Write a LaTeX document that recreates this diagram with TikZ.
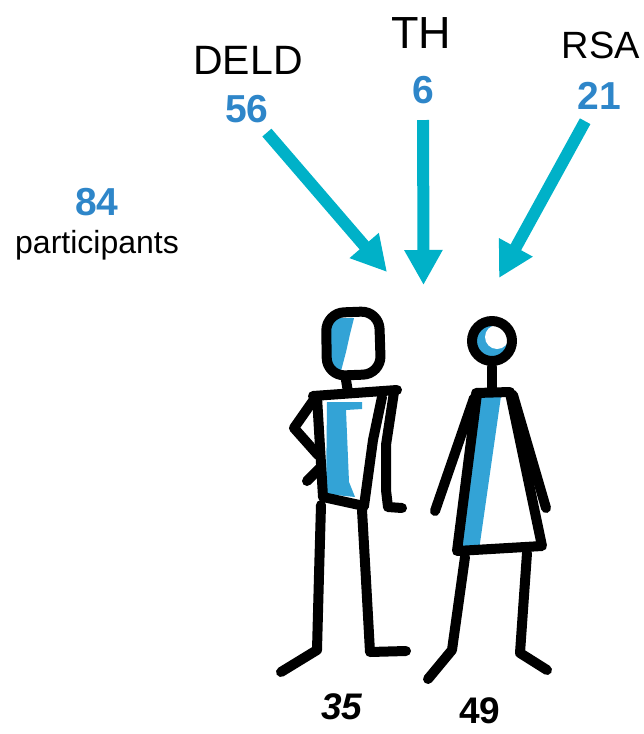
\documentclass[tikz,border=0pt]{standalone}
\usepackage{fontspec}
\setmainfont{Liberation Sans}
\usepackage{tikz}
\usetikzlibrary{arrows.meta, calc}

\definecolor{arrowcyan}{HTML}{00B1C8}
\definecolor{numblue}{HTML}{2E86C9}
\definecolor{bodyblue}{HTML}{33A3D6}

\tikzset{
    site/.style={inner sep=0pt, font=\fontsize{41}{44}\selectfont},
    count/.style={inner sep=0pt, text=numblue, font=\bfseries\fontsize{39}{42}\selectfont},
    total/.style={inner sep=0pt, font=\bfseries\fontsize{37}{40}\selectfont},
    flow/.style={draw=arrowcyan, line width=12pt, -{Triangle[length=35pt,width=36pt]}},
    body/.style={line width=10pt, line cap=round, line join=round},
}

\begin{document}
\begin{tikzpicture}[x=1pt, y=-1pt]
        \useasboundingbox (0,0) rectangle (644,734);

        \node[site] (deld) at (248,60.5) {DELD};
        \node[site, font=\fontsize{45}{48}\selectfont] (th) at (421,33.5) {TH};
        \node[site, font=\fontsize{38}{41}\selectfont] (rsa) at (601,45.5) {RSA};
        \node[count] (n56) at (247,109.5) {56};
        \node[count] (n6) at (423,90) {6};
        \node[count] (n21) at (599,96) {21};
        \node[count] (n84) at (97,202.5) {84};
        \node[inner sep=0pt, anchor=base, font=\fontsize{32}{35}\selectfont] (part) at (97,253) {participants};

        \coordinate (tipD) at (387,272);
        \coordinate (tipT) at (423.5,285);
        \coordinate (tipR) at (499,278);
        \draw[flow, shorten <=12pt] (n56) -- (tipD);
        \draw[flow, shorten <=16pt] (n6) -- (tipT);
        \draw[flow, shorten <=13pt] (n21) -- (tipR);

        % man
        \fill[white] (326,313) -- (379,311) -- (381,374) -- (327,376) -- cycle;
        \fill[bodyblue] (330,318) -- (354,318) -- (350,334) -- (346,352) -- (341,371) -- (330,371) -- cycle;
        \draw[body, rounded corners=18pt] (326,313) -- (379,311) -- (381,374) -- (327,376) -- cycle;
        \fill[bodyblue] (327,402) -- (362,402) -- (362,409) -- (346,410) -- (349,482) -- (355,497) -- (326,494) -- cycle;
        \draw[body] (346,380) -- (348,392);
        \draw[body] (313,396) -- (397,390);
        \draw[body] (317,397) -- (323,497) -- (364,506);
        \draw[body] (382,397) -- (373,440) -- (364,506);
        \draw[body] (394,392) -- (386,445) -- (386,490) -- (388,507) -- (402,508);
        \draw[body] (315,398) -- (294,428) -- (318,455);
        \draw[body] (320,468) -- (307,481);
        \draw[body] (321,505) -- (319,575) -- (317,650) -- (281,672);
        \draw[body] (362,510) -- (366,580) -- (370,652) -- (406,651);

        % woman
        \fill[bodyblue] (492,341) circle (17pt);
        \fill[white] (497,337) circle (12pt);
        \draw[body] (492,341) circle (20pt);
        \fill[bodyblue] (481,396) -- (501,396) -- (479,550) -- (460,551) -- cycle;
        \draw[body] (492,367) -- (492,390);
        \draw[body] (476,393) -- (510,392);
        \draw[body] (477,394) -- (457,551) -- (542,546) -- (510,393);
        \draw[body] (474,398) -- (435,511);
        \draw[body] (513,395) -- (546,508);
        \draw[body] (465,557) -- (452,650) -- (428,679);
        \draw[body] (527,553) -- (520,653) -- (547,670);

        \node[total, font=\bfseries\itshape\fontsize{37}{40}\selectfont] (n35) at (342,706.5) {35};
        \node[total] (n49) at (480,711) {49};
    \end{tikzpicture}
\end{document}
